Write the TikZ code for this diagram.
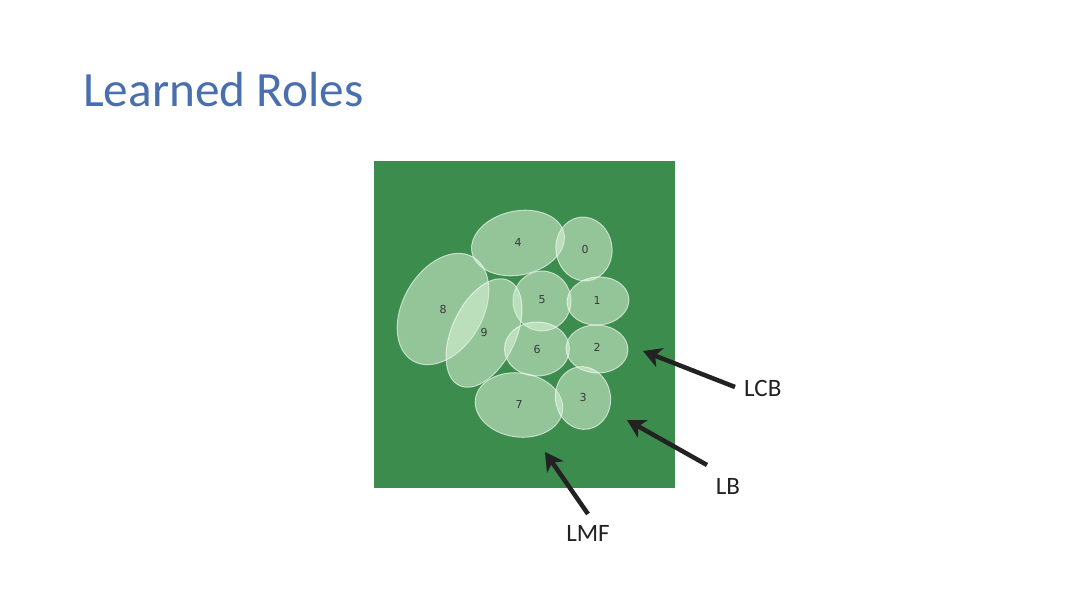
\documentclass[tikz,border=0pt]{standalone}
\usepackage{fontspec}
\setmainfont{Carlito}
\newfontfamily\numfont{DejaVu Sans}
\usetikzlibrary{shapes.geometric,arrows.meta}
\definecolor{pitch}{HTML}{3C8C4E}
\definecolor{rolefill}{HTML}{DCF5D8}
\definecolor{titleblue}{HTML}{4A6FAE}
\definecolor{arrowdark}{HTML}{222222}
\tikzset{
  role/.style={ellipse, inner sep=0pt, outer sep=0pt, fill=rolefill, fill opacity=0.55,
    draw=white, draw opacity=0.6, line width=1pt},
  num/.style={font=\numfont\fontsize{11}{11}\selectfont, text=arrowdark!90},
  lbl/.style={font=\fontsize{25}{25}\selectfont, text=arrowdark, inner sep=0pt},
  pointer/.style={draw=arrowdark, line width=4.5pt, -{Stealth[length=18pt, width=20pt, inset=5pt]}}
}
\begin{document}
\begin{tikzpicture}[x=1pt, y=-1pt]
\useasboundingbox (0,0) rectangle (1080,608);
\fill[white] (0,0) rectangle (1080,608);
\node[anchor=base west, inner sep=0pt, text=titleblue, font=\fontsize{49.3}{49.3}\selectfont] (title) at (83,106) {Learned Roles};
\node[fill=pitch, minimum width=301pt, minimum height=327pt, inner sep=0pt, anchor=north west] (pitch) at (374,161) {};
% ellipses
\node[role, minimum width=94pt, minimum height=64pt, rotate=12] (e4) at (518,243) {};
\node[role, minimum width=56pt, minimum height=64pt, rotate=8] (e0) at (584,249) {};
\node[role, minimum width=58pt, minimum height=60pt] (e5) at (542,301) {};
\node[role, minimum width=62pt, minimum height=48pt, rotate=5] (e1) at (598,301) {};
\node[role, minimum width=120pt, minimum height=80pt, rotate=60] (e8) at (443,309) {};
\node[role, minimum width=116pt, minimum height=64pt, rotate=65] (e9) at (484,333) {};
\node[role, minimum width=65pt, minimum height=54pt] (e6) at (537,349) {};
\node[role, minimum width=62pt, minimum height=48pt, rotate=-3] (e2) at (597,349) {};
\node[role, minimum width=88pt, minimum height=64pt, rotate=-8] (e7) at (519,405) {};
\node[role, minimum width=55pt, minimum height=63pt, rotate=10] (e3) at (583,398) {};
% numbers
\node[num] (n4) at (518,242) {4};
\node[num] (n0) at (585,249) {0};
\node[num] (n5) at (542,300) {5};
\node[num] (n1) at (597,300) {1};
\node[num] (n8) at (443,309) {8};
\node[num] (n9) at (484,332) {9};
\node[num] (n6) at (537,349) {6};
\node[num] (n2) at (597,347) {2};
\node[num] (n7) at (519,404) {7};
\node[num] (n3) at (583,397) {3};
% labels and arrows
\node[lbl, anchor=west] (lcb) at (744,388) {LCB};
\node[lbl] (lb) at (728,486) {LB};
\node[lbl] (lmf) at (588,533) {LMF};
\coordinate (tlcb) at (643,351);
\coordinate (tlb) at (627,420);
\coordinate (tlmf) at (545,452);
\coordinate (slcb) at (735,387);
\coordinate (slb) at (707,465);
\coordinate (slmf) at (588,514);
\draw[pointer] (slcb) -- (tlcb);
\draw[pointer] (slb) -- (tlb);
\draw[pointer] (slmf) -- (tlmf);
\end{tikzpicture}
\end{document}
